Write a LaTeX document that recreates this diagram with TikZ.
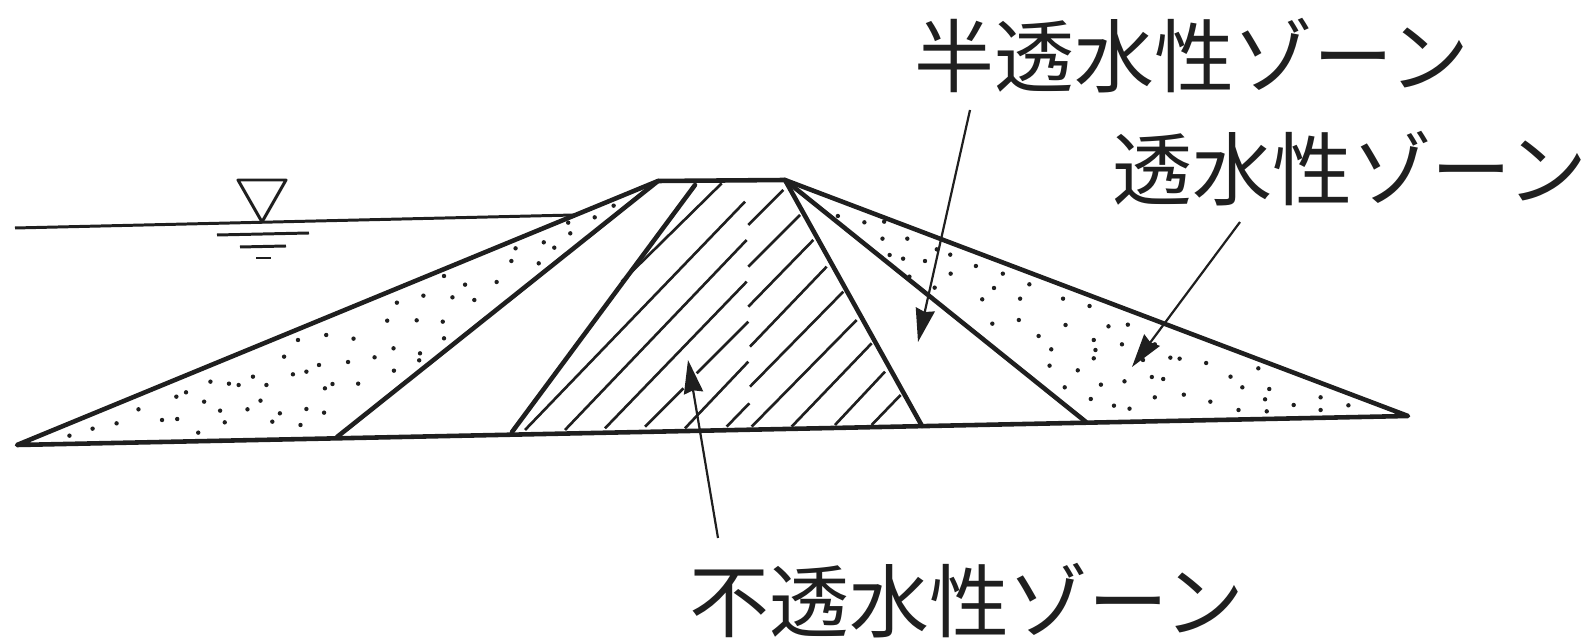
\documentclass[tikz,border=0pt]{standalone}
\usepackage{fontspec}
\newfontfamily\jpfont{Noto Sans CJK JP}
\usetikzlibrary{arrows.meta}
\definecolor{ink}{gray}{0.12}
\tikzset{
  thick line/.style={draw=ink,line width=2.6pt,line cap=round,line join=round},
  water line/.style={draw=ink,line width=1.7pt},
  hatch line/.style={draw=ink,line width=1.5pt},
  leader/.style={draw=ink,line width=1.25pt,-{Stealth[length=19pt,width=11pt,inset=1.5pt]}},
  label text/.style={font=\jpfont\fontsize{45.5}{47}\selectfont,text=ink,inner sep=0pt}
}
\begin{document}
\begin{tikzpicture}[x=0.02cm,y=-0.02cm]
\useasboundingbox (0,0) rectangle (1592,644);
% dam outline points
\coordinate (tipL) at (17,445);
\coordinate (tipR) at (1408,416);
\coordinate (crestL) at (658,181);
\coordinate (crestR) at (785,180);
\coordinate (footA) at (337,437);
\coordinate (footB) at (512,432);
\coordinate (footC) at (922,426);
\coordinate (footD) at (1086,422);
% hatching (x/3+480, y/3+160 from a 3x grid)
\begin{scope}[shift={(480,160)},x=0.00666667cm,y=-0.00666667cm]
\foreach \ax/\ay/\bx/\by in {725/70/425/365, 135/810/795/125, 255/810/800/240, 375/805/800/365,
  495/800/610/685, 650/640/805/485, 615/805/805/605, 740/800/808/730,
  805/195/910/90, 805/320/960/165, 805/440/1000/240, 810/560/1040/320, 810/680/1090/395,
  815/800/1130/480, 935/800/1175/550, 1065/795/1215/635, 1175/795/1262/705}
  \draw[hatch line] (\ax,\ay) -- (\bx,\by);
\end{scope}
% stipple, left
\foreach \x/\y in {165/827,220/806,277/790,329/748,385/780,421/777,471/818,419/710,442/697,485/725,500/665,523/752,534/787,544/671,567/675,588/748,601/650,633/675,619/722,647/785,665/760,714/795,728/747,770/758,772/685,790/672,851/671,696/643,728/635,758/615,675/590,708/540,775/525,840/536,827/606,890/592,935/565,936/632,998/580,996/601,920/482,990/481,1052/485,1055/535,943/428,1006/407,1075/412,1105/374,1127/420,1180/366,1055/348,1215/303,1280/310,1225/265,1292/247,1317/263,1350/188,1355/220,1413/172,1458/137}
  \fill[ink] ({\x/2.376},{160+\y/3}) circle[radius=1.25pt];
% stipple, right
\foreach \x/\y in {185/168,248/187,295/185,291/236,350/236,308/285,340/296,392/303,420/268,452/284,513/318,453/341,577/341,355/350,415/383,556/384,640/373,528/418,618/416,720/416,783/438,552/491,615/480,726/495,828/499,874/494,662/528,793/540,860/553,692/568,797/570,793/595,938/553,975/593,997/596,1060/609,910/600,688/617,755/631,1184/625,931/651,958/657,866/664,1118/650,810/674,724/682,1146/682,1210/687,1007/704,938/712,786/717,1070/725,841/737,878/746,1200/718,1332/712,1268/735,1398/736,1137/750,1204/754,1332/750}
  \fill[ink] ({760+\x/2.376},{160+\y/3}) circle[radius=1.25pt];
% dam lines
\draw[thick line] (tipL) -- (crestL) -- (crestR) -- (tipR) -- cycle;
\draw[thick line] (footA) -- (crestL);
\draw[thick line] (footB) -- (695,185);
\draw[thick line] (footC) -- (crestR);
\draw[thick line] (footD) -- (crestR);
% water surface
\coordinate (wL) at (15,228);
\coordinate (wR) at (574,215);
\draw[water line] (wL) -- (wR);
\coordinate (triA) at (238,180);
\coordinate (triB) at (286,180);
\coordinate (triC) at (262,222);
\draw[water line,line join=round] (triA) -- (triB) -- (triC) -- cycle;
\coordinate (s1a) at (217,235); \coordinate (s1b) at (309,233);
\coordinate (s2a) at (240,247); \coordinate (s2b) at (286,246);
\coordinate (s3a) at (256,258); \coordinate (s3b) at (271,258);
\draw[water line] (s1a) -- (s1b);
\draw[water line] (s2a) -- (s2b);
\draw[water line] (s3a) -- (s3b);
% labels
\node[label text] (semi) at (1192,56) {半透水性ゾーン};
\node[label text] (perm) at (1350,169) {透水性ゾーン};
\node[label text] (imp) at (967,601) {不透水性ゾーン};
% leaders
\coordinate (semiS) at (970,110); \coordinate (semiT) at (918,342);
\coordinate (permS) at (1240,222); \coordinate (permT) at (1132,367);
\coordinate (impS) at (718,538); \coordinate (impT) at (688,360);
\draw[leader] (semiS) -- (semiT);
\draw[leader] (permS) -- (permT);
\draw[leader] (impS) -- (impT);
\end{tikzpicture}
\end{document}
